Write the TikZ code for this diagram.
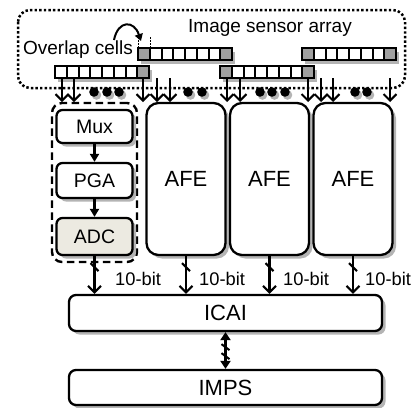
\documentclass[tikz,border=0pt]{standalone}
\usepackage{fontspec}
\setmainfont{Liberation Sans}
\usetikzlibrary{arrows.meta,shadows}
\definecolor{adcfill}{HTML}{ECEAE1}
\definecolor{cellgray}{HTML}{A0A0A0}
\definecolor{shadowgray}{HTML}{B4B4B4}
\newcommand\srow[3]{%
  \fill[shadowgray] (#1+3,#2+4) rectangle ++(94,12);
  \foreach \c [count=\i from 0] in {#3} {\draw[cellbox,fill=\c] (#1+\i*11.75,#2) rectangle ++(11.75,12);}
}
\begin{document}
\begin{tikzpicture}[x=1pt,y=-1pt,
  cellbox/.style={line width=2pt},
  box/.style={draw, line width=2.3pt, fill=white, inner sep=0pt,
    drop shadow={shadow xshift=3.5pt, shadow yshift=-3.5pt, fill=shadowgray, opacity=1}},
  smallbox/.style={box, rounded corners=6pt, minimum width=76pt, font=\fontsize{19.5}{22}\selectfont},
  afebox/.style={box, rounded corners=12pt, minimum width=79pt, minimum height=152pt, font=\fontsize{22}{26}\selectfont},
  widebox/.style={box, rounded corners=7pt, minimum width=313pt, font=\fontsize{22}{26}\selectfont},
  framebox/.style={draw, line width=2.5pt, dash pattern=on 2.4pt off 2.2pt, rounded corners=12pt},
  grpbox/.style={draw, line width=2.4pt, dash pattern=on 7.5pt off 4.5pt, rounded corners=10pt},
  sarrow/.style={line width=2.1pt, -{Straight Barb[length=6.5pt,width=13pt]}},
  farrow/.style={line width=2.1pt, -{Triangle[length=8pt,width=9pt]}},
  darrow/.style={line width=2.1pt, {Triangle[length=8pt,width=10pt]}-{Triangle[length=8pt,width=10pt]}},
  busmark/.style={line width=2pt},
  lbl/.style={font=\fontsize{18.3}{21}\selectfont, inner sep=0pt, anchor=west},
  title/.style={font=\fontsize{19}{22}\selectfont, inner sep=0pt}
]
\useasboundingbox (0,0) rectangle (415,407);

% sensor array frame
\coordinate (fa) at (18,10);
\coordinate (fb) at (405,88);
\draw[framebox] (fa) rectangle (fb);
\node[title] (tsa) at (270,28) {Image sensor array};
\node[title] (tov) at (78,50) {Overlap cells};

% overlap marker
\coordinate (ca) at (114,40);
\coordinate (cb) at (141,41);
\draw[line width=2pt, -{Triangle[length=7pt,width=8pt]}] (ca) .. controls (118,20) and (134,20) .. (cb);
\draw[line width=1pt, dash pattern=on 1.5pt off 1.5pt] (138,37) -- (138,48);
\draw[line width=1pt, dash pattern=on 1.5pt off 1.5pt] (150,37) -- (150,48);

% sensor rows
\srow{138}{48}{cellgray,white,white,white,white,white,white,cellgray}
\srow{302}{48}{cellgray,white,white,white,white,white,white,cellgray}
\srow{55}{66}{white,white,white,white,white,white,white,cellgray}
\srow{220}{66}{cellgray,white,white,white,white,white,white,cellgray}

% dots
\foreach \x in {94,107,119,188,202,260,272,285,355,367} {
  \fill[shadowgray] (\x+2.5,95) circle (4.8pt);
  \fill (\x,92) circle (4.8pt);
}
% readout arrows
\foreach \x in {62,74,143,157,170,227,240,308,321,333,390}
  \draw[sarrow] (\x,78) -- (\x,102);

% left readout chain
\node[grpbox, minimum width=85pt, minimum height=159pt] (grp) at (94.5,182.5) {};
\node[smallbox, minimum height=33pt] (mux) at (94.5,126.5) {Mux};
\node[smallbox, minimum height=35pt] (pga) at (94.5,180.5) {PGA};
\node[smallbox, minimum height=37pt, fill=adcfill] (adc) at (94.5,236.5) {ADC};
\draw[farrow] (mux) -- (pga);
\draw[farrow] (pga) -- (adc);

% AFEs
\node[afebox] (afe1) at (186,179) {AFE};
\node[afebox] (afe2) at (269.5,179) {AFE};
\node[afebox] (afe3) at (353,179) {AFE};

% ICAI, IMPS
\node[widebox, minimum height=36pt] (icai) at (225.5,313) {ICAI};
\node[widebox, minimum height=35pt] (imps) at (225.5,387.5) {IMPS};

% 10-bit buses
\foreach \s/\lx in {adc/115,afe1/199,afe2/283,afe3/365} {
  \draw[sarrow] (\s.south) -- (\s.south |- icai.north);
  \path (\s.south) ++(0,11) coordinate (m\s);
  \draw[busmark] ([shift={(-4,-4)}]m\s) -- ([shift={(4,4)}]m\s);
  \node[lbl] (l\s) at (\lx,279) {10-bit};
}

% ICAI <-> IMPS
\draw[darrow] (icai) -- (imps);
\path (icai.south) ++(0,15) coordinate (b1);
\path (icai.south) ++(0,24) coordinate (b2);
\draw[busmark] ([shift={(-4,-3)}]b1) -- ([shift={(4,3)}]b1);
\draw[busmark] ([shift={(-4,-3)}]b2) -- ([shift={(4,3)}]b2);
\end{tikzpicture}
\end{document}
